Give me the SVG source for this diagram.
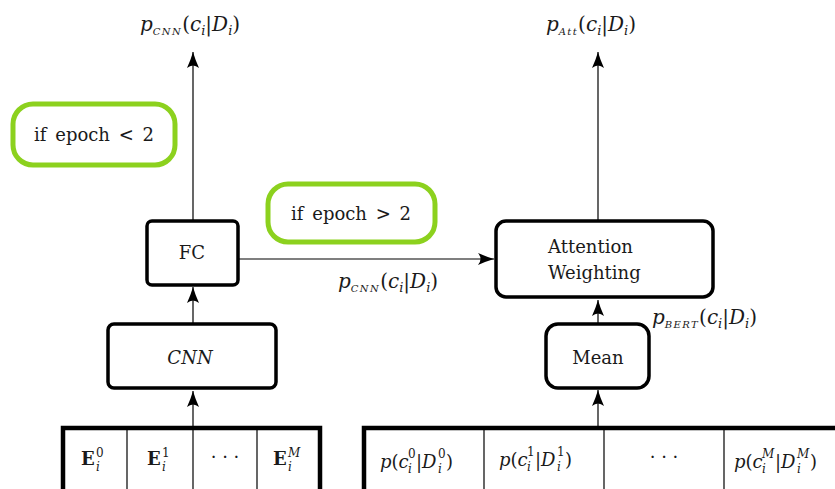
<svg xmlns="http://www.w3.org/2000/svg" width="835" height="489" viewBox="0 0 835 489" font-family="'DejaVu Serif', 'Liberation Serif', serif">
<style>
text{font-family:"DejaVu Serif","Liberation Serif",serif;fill:#1a1a1a;font-size:18px}
.lbl{font-size:20px}
.box{fill:#fff;stroke:#000;stroke-width:3.5}
.cond{fill:#fff;stroke:#8cd11e;stroke-width:5}
.tbl{fill:#fff;stroke:#000;stroke-width:4.5}
.div{stroke:#000;stroke-width:1.2}
.ln{stroke:#000;stroke-width:1.2;fill:none}
.it{font-style:italic}
.sc{font-style:italic;font-size:10px;letter-spacing:1.4px}
.sm{font-size:12px}
.ss{font-size:13px}
</style>
<defs>
<marker id="ah" markerWidth="18" markerHeight="14" refX="16" refY="7" orient="auto" markerUnits="userSpaceOnUse">
<path d="M0,1 Q9,5 16,7 Q9,9 0,13 Q5,7 0,1 Z" fill="#000"/>
</marker>
</defs>

<g id="connectors">
<line class="ln" x1="193" y1="220" x2="193" y2="52" marker-end="url(#ah)"/>
<line class="ln" x1="193" y1="323" x2="193" y2="287" marker-end="url(#ah)"/>
<line class="ln" x1="193" y1="427" x2="193" y2="391" marker-end="url(#ah)"/>
<line class="ln" x1="239" y1="259" x2="494" y2="259" marker-end="url(#ah)"/>
<line class="ln" x1="598" y1="220" x2="598" y2="52" marker-end="url(#ah)"/>
<line class="ln" x1="598" y1="323" x2="598" y2="300" marker-end="url(#ah)"/>
<line class="ln" x1="598" y1="427" x2="598" y2="390" marker-end="url(#ah)"/>
</g>

<g id="label-pcnn-top">
<text class="lbl" x="140" y="31"><tspan class="it">p</tspan><tspan class="sc" dy="4">CNN</tspan><tspan dy="-4">(</tspan><tspan class="it">c</tspan><tspan class="it ss" dy="4">i</tspan><tspan dy="-4">|</tspan><tspan class="it">D</tspan><tspan class="it ss" dy="4">i</tspan><tspan dy="-4">)</tspan></text>
</g>
<g id="label-patt-top">
<text class="lbl" x="546" y="31"><tspan class="it">p</tspan><tspan class="sc" dy="4">Att</tspan><tspan dy="-4">(</tspan><tspan class="it">c</tspan><tspan class="it ss" dy="4">i</tspan><tspan dy="-4">|</tspan><tspan class="it">D</tspan><tspan class="it ss" dy="4">i</tspan><tspan dy="-4">)</tspan></text>
</g>
<g id="label-pcnn-mid">
<text class="lbl" x="338" y="288"><tspan class="it">p</tspan><tspan class="sc" dy="4">CNN</tspan><tspan dy="-4">(</tspan><tspan class="it">c</tspan><tspan class="it ss" dy="4">i</tspan><tspan dy="-4">|</tspan><tspan class="it">D</tspan><tspan class="it ss" dy="4">i</tspan><tspan dy="-4">)</tspan></text>
</g>
<g id="label-pbert">
<text class="lbl" x="652" y="324"><tspan class="it">p</tspan><tspan class="sc" dy="4">BERT</tspan><tspan dy="-4">(</tspan><tspan class="it">c</tspan><tspan class="it ss" dy="4">i</tspan><tspan dy="-4">|</tspan><tspan class="it">D</tspan><tspan class="it ss" dy="4">i</tspan><tspan dy="-4">)</tspan></text>
</g>

<g id="cond-lt">
<rect class="cond" x="13" y="104" width="162" height="61" rx="20"/>
<text x="94" y="141" text-anchor="middle" word-spacing="3">if epoch &lt; 2</text>
</g>
<g id="cond-gt">
<rect class="cond" x="268" y="184" width="167" height="58" rx="20"/>
<text x="351" y="220" text-anchor="middle" word-spacing="3">if epoch &gt; 2</text>
</g>

<g id="fc">
<rect class="box" x="147" y="221" width="91" height="64" rx="5"/>
<text x="192" y="259" text-anchor="middle">FC</text>
</g>
<g id="cnn">
<rect class="box" x="108" y="324" width="168" height="64" rx="6"/>
<text x="190" y="364" text-anchor="middle" class="it">CNN</text>
</g>
<g id="attention">
<rect class="box" x="496" y="221" width="217" height="76" rx="10"/>
<text x="548" y="253">Attention</text>
<text x="548" y="279">Weighting</text>
</g>
<g id="mean">
<rect class="box" x="546" y="324" width="103" height="64" rx="12"/>
<text x="598" y="364" text-anchor="middle">Mean</text>
</g>

<g id="table-left">
<rect class="tbl" x="63" y="428" width="257" height="80"/>
<line class="div" x1="127" y1="428" x2="127" y2="489"/>
<line class="div" x1="193" y1="428" x2="193" y2="489"/>
<line class="div" x1="257" y1="428" x2="257" y2="489"/>
<text x="81" y="465" font-weight="bold">E</text><text x="96" y="457" class="sm">0</text><text x="96" y="471" class="sm it">i</text>
<text x="147" y="465" font-weight="bold">E</text><text x="162" y="457" class="sm">1</text><text x="162" y="471" class="sm it">i</text>
<text x="225" y="463" text-anchor="middle">· · ·</text>
<text x="273" y="465" font-weight="bold">E</text><text x="288" y="457" class="sm it">M</text><text x="288" y="471" class="sm it">i</text>
</g>

<g id="table-right">
<rect class="tbl" x="364" y="428" width="490" height="80"/>
<line class="div" x1="484" y1="428" x2="484" y2="489"/>
<line class="div" x1="604" y1="428" x2="604" y2="489"/>
<line class="div" x1="724" y1="428" x2="724" y2="489"/>
<text x="380" y="468"><tspan class="it">p</tspan>(<tspan class="it">c</tspan></text><text x="408" y="458" class="sm">0</text><text x="408" y="473" class="sm it">i</text><text x="416" y="468">|<tspan class="it">D</tspan></text><text x="438" y="458" class="sm">0</text><text x="438" y="473" class="sm it">i</text><text x="446" y="468">)</text>
<text x="499" y="466"><tspan class="it">p</tspan>(<tspan class="it">c</tspan></text><text x="527" y="456" class="sm">1</text><text x="527" y="471" class="sm it">i</text><text x="535" y="466">|<tspan class="it">D</tspan></text><text x="557" y="456" class="sm">1</text><text x="557" y="471" class="sm it">i</text><text x="565" y="466">)</text>
<text x="664" y="463" text-anchor="middle">· · ·</text>
<text x="734" y="468"><tspan class="it">p</tspan>(<tspan class="it">c</tspan></text><text x="762" y="458" class="sm it">M</text><text x="762" y="473" class="sm it">i</text><text x="775" y="468">|<tspan class="it">D</tspan></text><text x="797" y="458" class="sm it">M</text><text x="797" y="473" class="sm it">i</text><text x="810" y="468">)</text>
</g>
</svg>
